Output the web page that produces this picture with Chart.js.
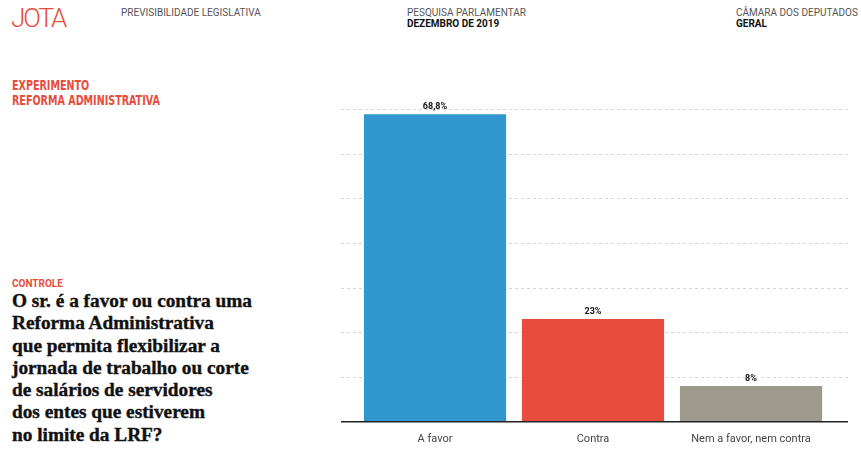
<!DOCTYPE html>
<html>
<head>
<meta charset="utf-8">
<script src="https://cdn.jsdelivr.net/npm/chart.js@4"></script>
<style>
  html, body { margin: 0; padding: 0; background: #fff; width: 861px; height: 464px; overflow: hidden; font-family: Roboto, "Liberation Sans", sans-serif; }
  .abs { position: absolute; white-space: nowrap; }
  .logo { left: 11px; top: 3px; font-size: 26px; color: #e74c3c; font-weight: 300; letter-spacing: -2px; }
  .small { font-size: 10px; color: #555; line-height: 11px; }
  .small b { color: #111; }
  .exp { left: 12px; top: 78px; font-family: "DejaVu Sans Condensed", "DejaVu Sans", sans-serif; font-stretch: condensed; font-weight: bold; font-size: 14px; line-height: 15px; color: #e74c3c; transform: scaleX(0.76); transform-origin: left top; }
  .ctrl { left: 12px; top: 278px; font-size: 10px; font-weight: bold; color: #e74c3c; }
  .q { left: 12px; top: 290px; font-family: "Liberation Serif", "DejaVu Serif", serif; font-weight: bold; font-size: 19.3px; line-height: 22.3px; color: #111; -webkit-text-stroke: 0.4px #111; }
  #wrap { position: absolute; left: 300px; top: 90px; width: 561px; height: 374px; }
</style>
</head>
<body>
<div class="abs logo">JOTA</div>
<div class="abs small" style="left:121px; top:7px;">PREVISIBILIDADE LEGISLATIVA</div>
<div class="abs small" style="left:407px; top:7px;">PESQUISA PARLAMENTAR<br><b>DEZEMBRO DE 2019</b></div>
<div class="abs small" style="left:736px; top:7px;">CÂMARA DOS DEPUTADOS<br><b>GERAL</b></div>
<div class="abs exp">EXPERIMENTO<br>REFORMA ADMINISTRATIVA</div>
<div class="abs ctrl">CONTROLE</div>
<div class="abs q">O sr. é a favor ou contra uma<br>Reforma Administrativa<br>que permita flexibilizar a<br>jornada de trabalho ou corte<br>de salários de servidores<br>dos entes que estiverem<br>no limite da LRF?</div>
<div id="wrap"><canvas id="c"></canvas></div>
<script>
const categories = ['A favor', 'Contra', 'Nem a favor, nem contra'];
const values = [68.8, 23, 8];
const barColors = ['#3098ce', '#e74c3c', '#9e9a8e'];
const yTicks = [0, 10, 20, 30, 40, 50, 60, 70];

// dashed grid + black baseline, a bit wider than the plot area
const gridPlugin = {
  id: 'grid',
  beforeDatasetsDraw(chart) {
    const ctx = chart.ctx, y = chart.scales.y, a = chart.chartArea;
    const x0 = a.left - 15, x1 = a.right + 18;
    ctx.save();
    ctx.strokeStyle = '#d6d6d6';
    ctx.lineWidth = 1;
    ctx.setLineDash([3, 3]);
    yTicks.slice(1).forEach(t => {
      const py = Math.round(y.getPixelForValue(t)) + 0.5;
      ctx.beginPath(); ctx.moveTo(x0, py); ctx.lineTo(x1, py); ctx.stroke();
    });
    ctx.restore();
  },
  afterDatasetsDraw(chart) {
    const ctx = chart.ctx, y = chart.scales.y, a = chart.chartArea;
    ctx.save();
    ctx.strokeStyle = '#222';
    ctx.lineWidth = 1.5;
    const py = y.getPixelForValue(0);
    ctx.beginPath(); ctx.moveTo(a.left - 15, py); ctx.lineTo(a.right + 18, py); ctx.stroke();
    // value labels
    ctx.fillStyle = '#111';
    ctx.font = 'bold 9px Roboto, sans-serif';
    ctx.textAlign = 'center';
    ctx.textBaseline = 'bottom';
    chart.getDatasetMeta(0).data.forEach((bar, i) => {
      ctx.fillText(String(values[i]).replace('.', ',') + '%', bar.x, bar.y - 3);
    });
    ctx.restore();
  }
};

new Chart(document.getElementById('c'), {
  type: 'bar',
  data: {
    labels: categories,
    datasets: [{
      data: values,
      backgroundColor: barColors,
      borderWidth: 0,
      categoryPercentage: 0.9,
      barPercentage: 1
    }]
  },
  options: {
    responsive: true,
    maintainAspectRatio: false,
    animation: false,
    layout: { padding: { left: 56, right: 31, top: 19, bottom: 15 } },
    plugins: { legend: { display: false }, tooltip: { enabled: false } },
    scales: {
      y: {
        min: 0, max: 70,
        display: false,
        afterBuildTicks: s => { s.ticks = yTicks.map(v => ({ value: v })); }
      },
      x: {
        grid: { display: false },
        border: { display: false },
        ticks: { color: '#444', font: { family: 'Roboto', size: 11 }, padding: 3 }
      }
    }
  },
  plugins: [gridPlugin]
});
</script>
</body>
</html>
